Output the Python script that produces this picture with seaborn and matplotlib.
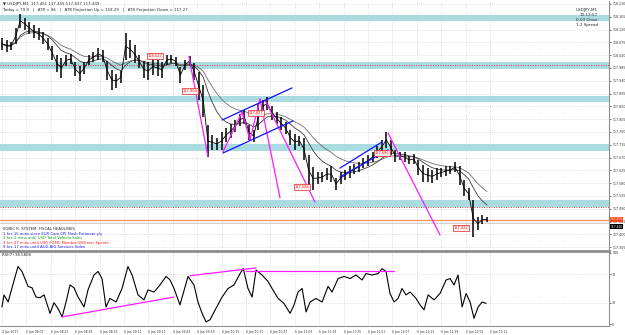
import numpy as np
import pandas as pd
import seaborn as sns
import matplotlib.pyplot as plt
import matplotlib.transforms as mtransforms

# price bars (3 minute steps)
bar_high = [118.090, 118.083, 118.076, 118.126, 118.175, 118.161, 118.147, 118.136, 118.126, 118.111,
            118.090, 118.062, 118.031, 118.020, 118.031, 118.034, 118.006, 117.992, 118.006, 118.031,
            118.041, 118.055, 118.048, 118.010, 117.978, 117.964, 117.974, 118.108, 118.083, 118.066,
            118.031, 118.010, 118.006, 118.020, 118.013, 118.006, 118.031, 118.031, 118.024, 117.988,
            118.013, 118.027, 118.002, 117.971, 117.925, 117.784, 117.749, 117.739, 117.760, 117.774,
            117.788, 117.802, 117.823, 117.837, 117.784, 117.767, 117.858, 117.872, 117.883, 117.851,
            117.830, 117.813, 117.795, 117.767, 117.753, 117.746, 117.739, 117.679, 117.637, 117.619,
            117.619, 117.633, 117.640, 117.598, 117.619, 117.626, 117.640, 117.647, 117.654, 117.668,
            117.679, 117.690, 117.711, 117.732, 117.760, 117.732, 117.697, 117.690, 117.690, 117.676,
            117.683, 117.661, 117.644, 117.633, 117.626, 117.633, 117.633, 117.640, 117.640, 117.654,
            117.640, 117.591, 117.563, 117.521, 117.461, 117.468, 117.461]
bar_low = [118.048, 118.041, 118.048, 118.069, 118.126, 118.119, 118.104, 118.090, 118.083, 118.069,
           118.048, 118.013, 117.971, 117.950, 117.992, 117.999, 117.957, 117.939, 117.964, 117.995,
           118.006, 118.013, 118.006, 117.943, 117.908, 117.915, 117.932, 118.013, 118.020, 118.002,
           117.985, 117.950, 117.943, 117.960, 117.957, 117.950, 117.995, 118.002, 117.992, 117.932,
           117.978, 117.992, 117.943, 117.872, 117.813, 117.672, 117.697, 117.697, 117.697, 117.725,
           117.739, 117.760, 117.781, 117.788, 117.732, 117.725, 117.767, 117.830, 117.837, 117.802,
           117.788, 117.767, 117.753, 117.714, 117.697, 117.711, 117.661, 117.574, 117.556, 117.577,
           117.584, 117.591, 117.584, 117.556, 117.577, 117.591, 117.598, 117.612, 117.619, 117.633,
           117.640, 117.654, 117.668, 117.683, 117.704, 117.679, 117.654, 117.661, 117.654, 117.647,
           117.647, 117.609, 117.584, 117.584, 117.581, 117.591, 117.602, 117.605, 117.612, 117.619,
           117.574, 117.535, 117.521, 117.391, 117.415, 117.436, 117.443]
bar_min = np.arange(len(bar_high)) * 3

# RSI(7)
rsi_min = [0, 1.3, 4, 6.6, 10.5, 13.1, 17.1, 19.7, 22.3, 24.9, 27.6, 31.5, 34.1, 36.7, 39.4, 42, 44.6,
           47.2, 49.9, 53.8, 56.4, 60.3, 63, 65.6, 68.2, 70.8, 74.8, 78.7, 82.6, 85.3, 89.2, 93.1, 95.7,
           99.7, 103.6, 107.6, 110.2, 112.8, 116.7, 122, 125.9, 128.5, 131.2, 133.8, 136.4, 140.3,
           144.3, 148.2, 152.1, 156.1, 158.2, 161.3, 164, 166.6, 170.5, 174.4, 177.1, 181, 184.9,
           188.9, 191.5, 194.1, 196.8, 199.4, 202, 205.9, 209.9, 213.8, 216.4, 220.4, 224.3, 228.2,
           232.1, 236.1, 238.7, 242.6, 246.6, 249.2, 251.8, 254.4, 257.1, 259.7, 262.3, 264.9, 267.6,
           271.5, 274.1, 276.7, 279.4, 283.3, 287.2, 291.2, 293.8, 296.4, 299, 301.7, 304.3, 306.9,
           309.5, 312.2, 314.8, 317.4]
rsi_val = [24, 41, 31, 51, 81, 74, 53, 51, 38, 37, 41, 15, 30, 22, 10, 31, 55, 51, 38, 24, 48, 69,
           74, 64, 24, 36, 31, 50, 81, 69, 41, 34, 48, 45, 55, 67, 62, 50, 27, 67, 55, 31, 15, 3, 6,
           22, 38, 50, 55, 71, 78, 50, 38, 76, 69, 60, 50, 36, 29, 15, 27, 45, 50, 17, 31, 36, 31, 53,
           45, 64, 67, 64, 69, 62, 71, 69, 71, 78, 74, 43, 31, 36, 50, 41, 45, 36, 27, 20, 41, 34, 43,
           62, 64, 55, 69, 24, 43, 31, 8, 24, 31, 29]

# levels and drawings
zones = [(118.150, 118.171), (117.981, 118.006), (117.865, 117.886), (117.693, 117.718), (117.496, 117.521)]
red_levels = [117.995, 117.496]
bid, ask = 117.451, 117.440
magenta_t = [(122.6, 135.1), (144.9, 157.4), (157.4, 162.6), (162.6, 169.2), (169.2, 182.3),
             (172.5, 205.2), (253.1, 287.2)]
magenta_p = [(118.024, 117.672), (117.690, 117.830), (117.830, 117.732), (117.732, 117.876),
             (117.876, 117.528), (117.872, 117.514), (117.756, 117.398)]
blue_t = [(144.3, 190.2), (144.9, 190.8), (221.6, 249.2), (221.6, 253.1)]
blue_p = [(117.802, 117.915), (117.686, 117.799), (117.633, 117.725), (117.602, 117.697)]
tag_t = [100.3, 123.3, 166.6, 196.7, 249.2, 301.0]
tag_p = [118.027, 117.904, 117.827, 117.566, 117.686, 117.422]
rsi_lines_t = [(39.4, 112.8), (123.3, 166.6), (160, 257)]
rsi_lines_v = [(10, 38), (68, 79), (75, 75)]

time_ticks = np.arange(0, 321, 16)
time_labels = ["4 Jan 2017", "6 Jan 08:07", "6 Jan 08:23", "6 Jan 08:39", "6 Jan 08:55", "6 Jan 09:11",
               "6 Jan 09:27", "6 Jan 09:43", "6 Jan 09:59", "6 Jan 10:15", "6 Jan 10:31", "6 Jan 10:47",
               "6 Jan 11:03", "6 Jan 11:19", "6 Jan 11:35", "6 Jan 11:51", "6 Jan 12:07", "6 Jan 12:23",
               "6 Jan 12:39", "6 Jan 12:55", "6 Jan 13:11"]
price_ticks = np.round(117.355 + 0.045 * np.arange(20), 3)

sns.set_style('white')
plt.rcParams['font.family'] = ['DejaVu Sans']

W, H = 625, 335
fig = plt.figure(figsize=(W / 100, H / 100), dpi=100)


def box(x0, y0, x1, y1):
    return [x0 / W, 1 - y1 / H, (x1 - x0) / W, (y1 - y0) / H]


ax = fig.add_axes(box(0, 1, 609, 249))
axr = fig.add_axes(box(0, 251, 609, 326))
xlim = (-1.3, 398)

# ---- price panel
for lo, hi in zones:
    ax.axhspan(lo, hi, color='#a9dbe1', lw=0, zorder=1)
for lv in red_levels:
    ax.axhline(lv, color='#e23b3b', lw=0.7, ls=(0, (1, 1.5)), zorder=2)
ax.axhline(bid, color='#ff8f5e', lw=0.9, zorder=2)
ax.axhline(ask, color='#b0b0b0', lw=0.4, zorder=2)

df = pd.DataFrame({'t': bar_min, 'high': bar_high, 'low': bar_low})
df['mid'] = (df['high'] + df['low']) / 2
df['ma_fast'] = df['mid'].ewm(span=8).mean()
df['ma_slow'] = df['mid'].ewm(span=16).mean()
sns.lineplot(data=df, x='t', y='ma_slow', ax=ax, color='#6e6e6e', lw=0.6, zorder=3)
sns.lineplot(data=df, x='t', y='ma_fast', ax=ax, color='#3c3c3c', lw=0.6, zorder=3)
ax.vlines(df['t'], df['low'], df['high'], color='black', lw=1.1, zorder=4)
sns.lineplot(data=df, x='t', y='mid', ax=ax, color='black', lw=0.6, zorder=4)

for t, p in zip(magenta_t, magenta_p):
    ax.plot(t, p, color='#ff1aff', lw=0.9, zorder=5)
for t, p in zip(blue_t, blue_p):
    ax.plot(t, p, color='#1010ff', lw=0.9, zorder=5)
for t, p in zip(tag_t, tag_p):
    ax.text(t, p, f'{p:.3f}', fontsize=2.6, color='#e02020', ha='center', va='center', zorder=6,
            bbox=dict(boxstyle='square,pad=0.25', fc='#fff0f0', ec='#e02020', lw=0.5))

ax.set_xlim(xlim)
ax.set_ylim(117.3485, 118.2205)
ax.set_xticks(time_ticks)
ax.set_xticklabels([])
ax.yaxis.tick_right()
ax.set_yticks(price_ticks)
ax.set_yticklabels([f'{v:.3f}' for v in price_ticks])
ax.tick_params(axis='y', labelsize=2.3, length=1.5, width=0.5, pad=0.8, colors='#333333')
ax.tick_params(axis='x', length=0)
ax.grid(True, ls=(0, (1, 2)), color='#c4c4c4', lw=0.5)
ax.set_xlabel('')
ax.set_ylabel('')
for s in ['left', 'top', 'bottom']:
    ax.spines[s].set_visible(False)
ax.spines['right'].set_color('#909090')
ax.spines['right'].set_linewidth(0.8)

trans = mtransforms.blended_transform_factory(ax.transAxes, ax.transData)
ax.text(1.002, bid + 0.002, f'{bid:.3f}', transform=trans, fontsize=2.1, color='white', va='center',
        bbox=dict(boxstyle='square,pad=0.15', fc='#ff4a1a', ec='none'), clip_on=False)
ax.text(1.002, ask - 0.013, f'{ask:.3f}', transform=trans, fontsize=2.1, color='white', va='center',
        bbox=dict(boxstyle='square,pad=0.15', fc='black', ec='none'), clip_on=False)

# chart texts
fig.text(3 / W, 1 - 4 / H, '\u25bc USDJPY,M1  117.451 117.455 117.437 117.439', fontsize=2.8, va='center')
fig.text(3 / W, 1 - 9.5 / H, 'Today = 79.9   |   ATR = 96   |   ATR Projection Up = 118.29   |   '
         'ATR Projection Down = 117.27', fontsize=2.8, va='center')
for i, s in enumerate(['USDJPY,M1', '13:13:57', '0.03 Close', '1.2 Spread']):
    fig.text(598 / W, 1 - (10 + 5 * i) / H, s, fontsize=3.0, ha='right', va='center')

news = [('SONIC R. SYSTEM  FISCAL HEADLINES', '#222222'),
        ('1 hrs 15 mins since EUR Core CPI Flash Estimate y/y', '#1a1aff'),
        ('3 hrs 2 mins until USD Total Vehicle Sales', '#0a9a0a'),
        ('3 hrs 47 mins until USD FOMC Member Williams Speaks', '#ff2020'),
        ('9 hrs 17 mins until AUD AIG Services Index', '#1a1aff')]
for i, (s, c) in enumerate(news):
    fig.text(3 / W, 1 - (229 + 4.6 * i) / H, s, fontsize=2.7, color=c, va='center')

# ---- RSI panel
sns.lineplot(x=rsi_min, y=rsi_val, ax=axr, color='black', lw=0.8, zorder=3)
for t, v in zip(rsi_lines_t, rsi_lines_v):
    axr.plot(t, v, color='#ff1aff', lw=0.9, zorder=4)
for lv in (30, 70):
    axr.axhline(lv, color='#c4c4c4', lw=0.5, ls=(0, (1, 2)), zorder=1)
axr.set_xlim(xlim)
axr.set_ylim(-2.8, 102.8)
axr.set_xticks(time_ticks)
axr.set_xticklabels(time_labels, ha='left')
axr.grid(True, axis='x', ls=(0, (1, 2)), color='#c4c4c4', lw=0.5)
axr.yaxis.tick_right()
axr.set_yticks([0, 30, 70, 100])
axr.set_yticklabels(['0', '30', '70', '100'])
axr.tick_params(axis='y', labelsize=2.3, length=1.5, width=0.5, pad=0.8, colors='#333333')
axr.tick_params(axis='x', labelsize=2.2, length=2, width=0.5, pad=0.8, colors='#333333')
axr.set_xlabel('')
axr.set_ylabel('')
axr.spines['left'].set_visible(False)
axr.spines['top'].set_color('#8c8c8c')
axr.spines['top'].set_linewidth(2)
axr.spines['right'].set_color('#909090')
axr.spines['right'].set_linewidth(0.8)
axr.spines['bottom'].set_color('#909090')
axr.spines['bottom'].set_linewidth(0.8)
axr.text(0.004, 0.97, 'RSI(7) 38.5806', transform=axr.transAxes, fontsize=2.8, va='top')

fig.savefig('out.png', dpi=100)
